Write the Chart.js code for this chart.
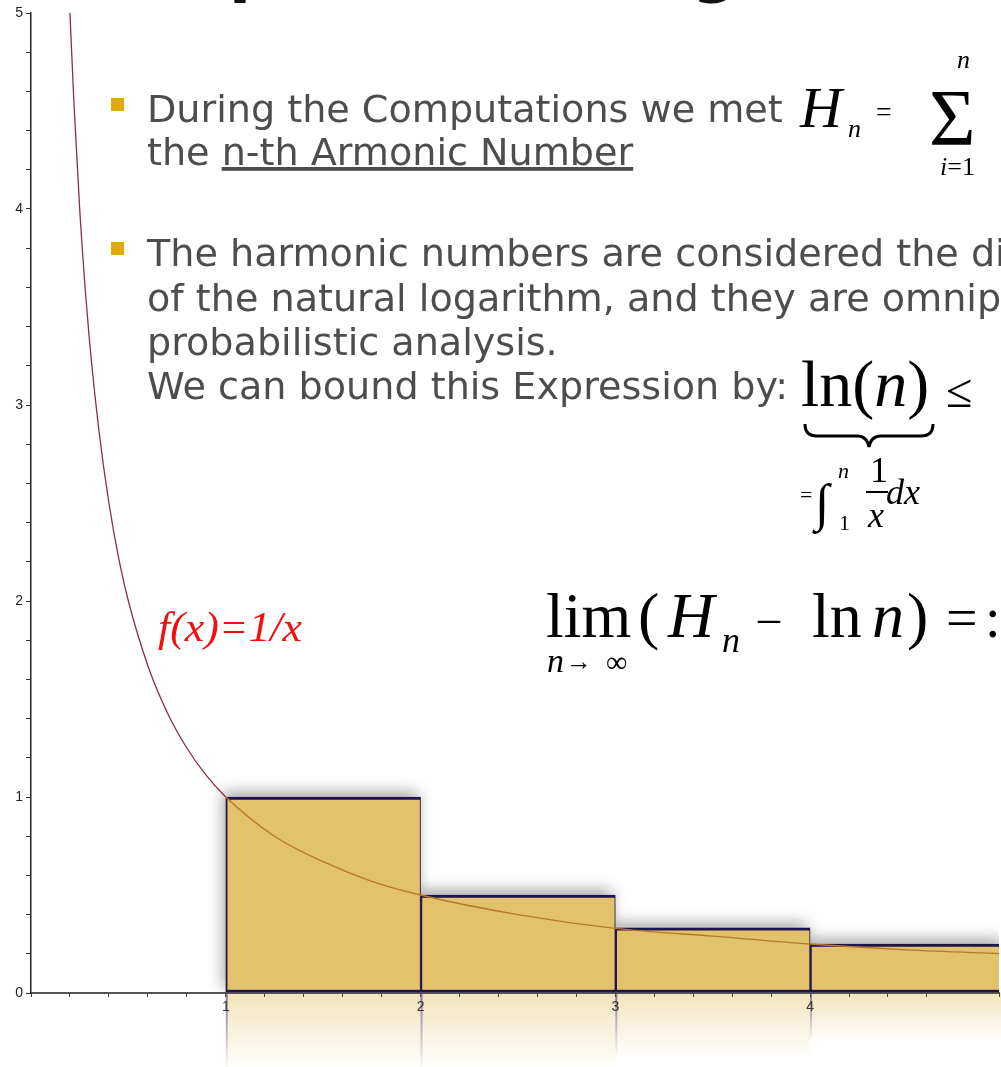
<!DOCTYPE html>
<html>
<head>
<meta charset="utf-8">
<script src="https://cdn.jsdelivr.net/npm/chart.js@4.4.1/dist/chart.umd.min.js"></script>
<style>
  html, body { margin: 0; padding: 0; background: #fff; }
  #wrap { position: relative; width: 1001px; height: 1067px; overflow: hidden; }
  #chart { position: absolute; left: 0; top: 0; }
  #ov { position: absolute; left: 0; top: 0; pointer-events: none; overflow: hidden; }
  .body { font-family: "DejaVu Sans", sans-serif; font-size: 38px; fill: #4d4d4d; }
  .m { font-family: "Liberation Serif", "Times New Roman", serif; fill: #000; }
  .it { font-style: italic; }
</style>
</head>
<body>
<div id="wrap">
  <canvas id="chart" width="1001" height="1067"></canvas>
  <svg id="ov" width="1001" height="1067" xmlns="http://www.w3.org/2000/svg">
    <!-- title descenders from the line above -->
    <text x="229" y="-10" font-family="DejaVu Sans" font-weight="bold" font-size="64" fill="#111">p</text>
    <text x="692" y="-10" font-family="DejaVu Sans" font-weight="bold" font-size="64" fill="#111">g</text>

    <!-- bullets -->
    <rect x="111" y="98" width="13" height="13" fill="#e0aa00"/>
    <rect x="111" y="242" width="13" height="13" fill="#e0aa00"/>

    <g id="bodyText" class="body">
      <text id="firstLine" x="0" y="122">During the Computations we met</text>
      <text x="0" y="165">the <tspan text-decoration="underline">n-th Armonic Number</tspan></text>
      <text x="0" y="266">The harmonic numbers are considered the discrete analogue</text>
      <text x="0" y="311">of the natural logarithm, and they are omnipresent in</text>
      <text x="0" y="355">probabilistic analysis.</text>
      <text x="0" y="399">We can bound this Expression by:</text>
    </g>

    <!-- H_n = sum_{i=1}^{n} -->
    <g class="m">
      <text class="it" x="800" y="127" font-size="58">H</text>
      <text class="it" x="848" y="137" font-size="26">n</text>
      <text x="876" y="121" font-size="28">=</text>
      <text x="929" y="145" font-size="80">Σ</text>
      <text class="it" x="957" y="68" font-size="26">n</text>
      <text x="940" y="175" font-size="26"><tspan class="it">i</tspan>=1</text>
    </g>

    <!-- ln(n) <= ... with the integral below -->
    <g class="m">
      <text x="801" y="406" font-size="66">ln(<tspan class="it">n</tspan>)</text>
      <text x="946" y="407" font-size="48">≤</text>
      <path d="M805,424 Q805,436 817,436 L857,436 Q867,436 869,447 Q871,436 881,436 L921,436 Q933,436 933,424"
            fill="none" stroke="#000" stroke-width="3"/>
      <text x="800" y="502" font-size="22">=</text>
      <text x="815" y="520" font-size="52">∫</text>
      <text class="it" x="838" y="478" font-size="22">n</text>
      <text x="839" y="530" font-size="22">1</text>
      <text x="870" y="482" font-size="36">1</text>
      <rect x="866" y="491" width="22" height="2" fill="#000"/>
      <text class="it" x="868" y="527" font-size="36">x</text>
      <text class="it" x="886" y="504" font-size="36">dx</text>
    </g>

    <text x="158" y="641" font-family="Liberation Serif" font-style="italic" font-size="42"
          fill="#f01010" textLength="144" lengthAdjust="spacingAndGlyphs">f(x)=1/x</text>

    <!-- lim (H_n - ln n) =: -->
    <g class="m">
      <text x="546" y="637" font-size="64">lim</text>
      <text x="638" y="637" font-size="64">(</text>
      <text class="it" x="668" y="637" font-size="64">H</text>
      <text class="it" x="722" y="652" font-size="36">n</text>
      <text x="758" y="632" font-size="44">–</text>
      <text x="812" y="637" font-size="64">ln</text>
      <text class="it" x="872" y="637" font-size="64">n</text>
      <text x="907" y="637" font-size="64">)</text>
      <text x="946" y="637" font-size="56">=</text>
      <text x="985" y="637" font-size="56">:</text>
      <text class="it" x="547" y="672" font-size="34">n</text>
      <text x="566" y="670" font-size="26">→</text>
      <text x="606" y="672" font-size="30">∞</text>
    </g>
  </svg>
</div>
<script>
"use strict";

// f(x) = 1/x, read at a handful of points along the curve
const curveX = [0.2, 0.22, 0.25, 0.28, 0.3, 0.35, 0.4, 0.45, 0.5, 0.6, 0.7, 0.8, 0.9, 1,
                1.25, 1.5, 1.75, 2, 2.5, 3, 3.5, 4, 4.5, 5];
const curveY = [5, 4.55, 4, 3.57, 3.33, 2.86, 2.5, 2.22, 2, 1.67, 1.43, 1.25, 1.11, 1,
                0.8, 0.67, 0.57, 0.5, 0.4, 0.33, 0.29, 0.25, 0.22, 0.2];

// rectangles over [n, n+1] with height 1/n
const barFrom = [1, 2, 3, 4];
const barTo = [2, 3, 4, 5];
const barHeight = [1, 0.5, 0.333, 0.25];

// labelled ticks
const xTickLabels = [1, 2, 3, 4];
const yTickLabels = [0, 1, 2, 3, 4, 5];

const barFill = "#e2c26a";
const barEdge = "#1e1250";

// squeeze the slide text to its line width
const firstLine = document.getElementById("firstLine");
const sx = 636 / firstLine.getComputedTextLength();
document.getElementById("bodyText").setAttribute("transform", `translate(147 0) scale(${sx} 1)`);

// soft mirrored copy of the bars below the x axis
const reflectPlugin = {
  id: "barReflect",
  beforeDraw(chart) {
    const ctx = chart.ctx;
    ctx.save();
    chart.getDatasetMeta(0).data.forEach(b => {
      const p = b.getProps(["x", "y", "base", "width"], true);
      const left = p.x - p.width / 2;
      const depth = Math.min(p.base - p.y, 78);
      const g = ctx.createLinearGradient(0, p.base, 0, p.base + depth);
      g.addColorStop(0, "rgba(226,194,106,0.45)");
      g.addColorStop(1, "rgba(226,194,106,0)");
      ctx.fillStyle = g;
      ctx.fillRect(left, p.base, p.width, depth);
      const e = ctx.createLinearGradient(0, p.base, 0, p.base + depth);
      e.addColorStop(0, "rgba(40,30,110,0.55)");
      e.addColorStop(1, "rgba(40,30,110,0)");
      ctx.strokeStyle = e;
      ctx.lineWidth = 2;
      ctx.beginPath();
      ctx.moveTo(left + 1, p.base);
      ctx.lineTo(left + 1, p.base + depth);
      ctx.stroke();
    });
    ctx.restore();
  }
};

// blurred shadow behind the bars
const shadowPlugin = {
  id: "barShadow",
  beforeDatasetsDraw(chart) {
    const ctx = chart.ctx;
    const a = chart.chartArea;
    ctx.save();
    ctx.beginPath();
    ctx.rect(a.left, a.top, a.right - a.left, a.bottom - a.top);
    ctx.clip();
    ctx.shadowColor = "rgba(0,0,0,0.35)";
    ctx.shadowBlur = 14;
    ctx.shadowOffsetX = -3;
    ctx.shadowOffsetY = -5;
    ctx.fillStyle = barFill;
    chart.getDatasetMeta(0).data.forEach(b => {
      const p = b.getProps(["x", "y", "base", "width"], true);
      ctx.fillRect(p.x - p.width / 2, p.y, p.width, p.base - p.y);
    });
    ctx.restore();
  }
};

const tickFont = { family: "Liberation Sans", size: 14 };

new Chart(document.getElementById("chart"), {
  type: "bar",
  data: {
    datasets: [
      {
        type: "bar",
        data: barFrom.map((f, i) => ({ x: (f + barTo[i]) / 2, y: barHeight[i] })),
        backgroundColor: barFill,
        borderColor: barEdge,
        borderWidth: { top: 3, bottom: 3, left: 2, right: 1 },
        borderSkipped: false,
        barThickness: "flex",
        categoryPercentage: 1,
        barPercentage: 1,
        order: 1
      },
      {
        type: "line",
        data: curveX.map((x, i) => ({ x, y: curveY[i] })),
        borderWidth: 1.3,
        borderColor: "#8e2f3c",
        segment: {
          borderColor: c => (c.p0.parsed.x >= 1 ? "#b5782a" : "#8e2f3c")
        },
        pointRadius: 0,
        cubicInterpolationMode: "monotone",
        fill: false,
        order: 0
      }
    ]
  },
  options: {
    responsive: false,
    animation: false,
    devicePixelRatio: 1,
    layout: { padding: { top: 13, left: 0, right: 0, bottom: 0 } },
    plugins: { legend: { display: false }, tooltip: { enabled: false } },
    scales: {
      x: {
        type: "linear",
        min: 0,
        max: 4.97,
        offset: false,
        afterFit: s => { s.height = 74; },
        border: { color: "#555", width: 2 },
        grid: { offset: false, drawOnChartArea: false, tickLength: 4, color: "#444" },
        ticks: {
          stepSize: 0.2,
          autoSkip: false,
          maxRotation: 0,
          padding: 2,
          color: "#333",
          font: tickFont,
          callback: v => (xTickLabels.includes(Math.round(v * 1000) / 1000) ? String(Math.round(v)) : "")
        }
      },
      y: {
        min: 0,
        max: 5,
        afterFit: s => { s.width = 31; },
        border: { color: "#222", width: 1.5 },
        grid: { drawOnChartArea: false, tickLength: 5, color: "#333" },
        ticks: {
          stepSize: 0.2,
          autoSkip: false,
          padding: 3,
          color: "#222",
          font: tickFont,
          callback: v => (yTickLabels.includes(Math.round(v * 1000) / 1000) ? String(Math.round(v)) : "")
        }
      }
    }
  },
  plugins: [reflectPlugin, shadowPlugin]
});
</script>
</body>
</html>
